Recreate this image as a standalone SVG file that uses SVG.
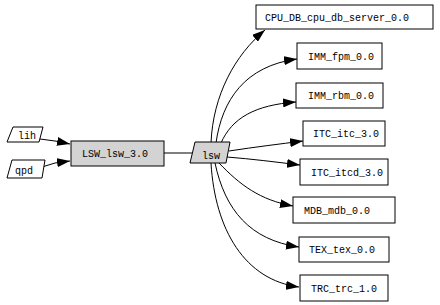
<svg xmlns="http://www.w3.org/2000/svg" width="440" height="305" viewBox="0 0 440 305">
<style>
.n{fill:#fff;stroke:#000;stroke-width:1}
.g{fill:#d3d3d3;stroke:#000;stroke-width:1}
text{font-family:"Liberation Mono","DejaVu Sans Mono",monospace;font-size:10px;fill:#000}
.e{fill:none;stroke:#000;stroke-width:1}
</style>
<defs>
<marker id="a" markerUnits="userSpaceOnUse" markerWidth="13" markerHeight="9" viewBox="0 0 13 9" refX="13" refY="4.5" orient="auto">
<path d="M0,0 L13,4.5 L0,9 z" fill="#000"/>
</marker>
</defs>
<rect width="440" height="305" fill="#fff"/>
<g id="edges">
<path class="e" d="M40,139 L55,141 L70,144" marker-end="url(#a)"/>
<path class="e" d="M42,167 L55,163 L70,161" marker-end="url(#a)"/>
<path class="e" d="M164,153 L192,153"/>
<path class="e" d="M211,143 C213,95 235,55 265,30" marker-end="url(#a)"/>
<path class="e" d="M216,143 C222,100 245,66 297,59" marker-end="url(#a)"/>
<path class="e" d="M221,143 C232,118 255,105 296,102" marker-end="url(#a)"/>
<path class="e" d="M229,151 C255,147 280,144 303,141" marker-end="url(#a)"/>
<path class="e" d="M227,157 C252,159 276,162 300,165" marker-end="url(#a)"/>
<path class="e" d="M219,163 C240,185 260,200 293,206" marker-end="url(#a)"/>
<path class="e" d="M215,163 C225,210 250,240 299,247" marker-end="url(#a)"/>
<path class="e" d="M211,163 C215,230 245,280 299,287" marker-end="url(#a)"/>
</g>
<g id="lih"><polygon class="n" points="13,127 43,127 39,142 7,142"/><text x="18" y="139">lih</text></g>
<g id="qpd"><polygon class="n" points="12,160 45,160 42,178 7,178"/><text x="15" y="174">qpd</text></g>
<g id="LSW_lsw_3.0"><rect class="g" x="71" y="141" width="93" height="25"/><text x="82" y="157">LSW_lsw_3.0</text></g>
<g id="lsw"><polygon class="g" points="195,142 230,142 226,163 190,163"/><text x="202" y="159">lsw</text></g>
<g id="CPU_DB_cpu_db_server_0.0"><rect class="n" x="256" y="5" width="177" height="24"/><text x="265" y="21">CPU_DB_cpu_db_server_0.0</text></g>
<g id="IMM_fpm_0.0"><rect class="n" x="297" y="43" width="85" height="26"/><text x="308" y="60">IMM_fpm_0.0</text></g>
<g id="IMM_rbm_0.0"><rect class="n" x="296" y="83" width="87" height="25"/><text x="308" y="99">IMM_rbm_0.0</text></g>
<g id="ITC_itc_3.0"><rect class="n" x="303" y="121" width="82" height="25"/><text x="313" y="137">ITC_itc_3.0</text></g>
<g id="ITC_itcd_3.0"><rect class="n" x="300" y="159" width="88" height="26"/><text x="311" y="176">ITC_itcd_3.0</text></g>
<g id="MDB_mdb_0.0"><rect class="n" x="293" y="197" width="102" height="26"/><text x="304" y="214">MDB_mdb_0.0</text></g>
<g id="TEX_tex_0.0"><rect class="n" x="299" y="237" width="90" height="25"/><text x="309" y="253">TEX_tex_0.0</text></g>
<g id="TRC_trc_1.0"><rect class="n" x="300" y="275" width="88" height="26"/><text x="311" y="292">TRC_trc_1.0</text></g>
</svg>
